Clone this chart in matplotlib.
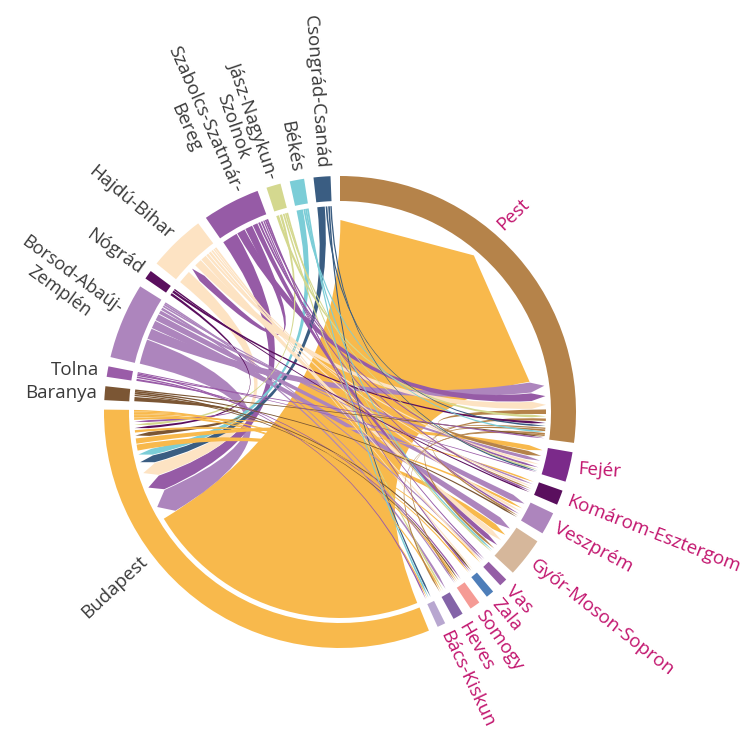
import numpy as np
import matplotlib
matplotlib.use('Agg')
import matplotlib.pyplot as plt
from matplotlib.path import Path
from matplotlib.patches import PathPatch, Wedge

# counties clockwise from the top
counties = ['Pest', 'Fejér', 'Komárom-Esztergom', 'Veszprém', 'Győr-Moson-Sopron',
            'Vas', 'Zala', 'Somogy', 'Heves', 'Bács-Kiskun', 'Budapest', 'Baranya',
            'Tolna', 'Borsod-Abaúj-Zemplén', 'Nógrád', 'Hajdú-Bihar',
            'Szabolcs-Szatmár-Bereg', 'Jász-Nagykun-Szolnok', 'Békés', 'Csongrád-Csanád']
labels = ['Pest', 'Fejér', 'Komárom-Esztergom', 'Veszprém', 'Győr-Moson-Sopron',
          'Vas', 'Zala', 'Somogy', 'Heves', 'Bács-Kiskun', 'Budapest', 'Baranya',
          'Tolna', 'Borsod-Abaúj-\nZemplén', 'Nógrád', 'Hajdú-Bihar',
          'Szabolcs-Szatmár-\nBereg', 'Jász-Nagykun-\nSzolnok', 'Békés', 'Csongrád-Csanád']
colors = ['#b5834a', '#7b2a8a', '#5a0f5e', '#ad85bd', '#d6b79b',
          '#955ea6', '#4e7eb9', '#f59b95', '#8464a8', '#b8a7d0',
          '#f8b94c', '#7b5634', '#9a5ca8', '#ad85bd', '#5a0f5e',
          '#fde3c3', '#965ba6', '#d4d88f', '#7bcdd7', '#3a5d82']

# migration flows (persons): from -> to
flow_from = (['Budapest'] * 10 + ['Pest'] * 6 + ['Borsod-Abaúj-Zemplén'] * 9
             + ['Szabolcs-Szatmár-Bereg'] * 9 + ['Hajdú-Bihar'] * 8 + ['Nógrád'] * 3
             + ['Baranya'] * 5 + ['Tolna'] * 5 + ['Jász-Nagykun-Szolnok'] * 5
             + ['Békés'] * 4 + ['Csongrád-Csanád'] * 4)
flow_to = [
    # Budapest
    'Pest', 'Fejér', 'Komárom-Esztergom', 'Veszprém', 'Győr-Moson-Sopron', 'Vas', 'Zala', 'Somogy', 'Heves', 'Bács-Kiskun',
    # Pest
    'Fejér', 'Komárom-Esztergom', 'Veszprém', 'Győr-Moson-Sopron', 'Somogy', 'Heves',
    # Borsod
    'Budapest', 'Pest', 'Fejér', 'Komárom-Esztergom', 'Veszprém', 'Győr-Moson-Sopron', 'Vas', 'Somogy', 'Heves',
    # Szabolcs
    'Budapest', 'Pest', 'Hajdú-Bihar', 'Fejér', 'Komárom-Esztergom', 'Veszprém', 'Győr-Moson-Sopron', 'Zala', 'Vas',
    # Hajdú
    'Budapest', 'Pest', 'Fejér', 'Komárom-Esztergom', 'Veszprém', 'Győr-Moson-Sopron', 'Vas', 'Zala',
    # Nógrád
    'Budapest', 'Pest', 'Komárom-Esztergom',
    # Baranya
    'Budapest', 'Pest', 'Veszprém', 'Zala', 'Somogy',
    # Tolna
    'Budapest', 'Pest', 'Fejér', 'Somogy', 'Bács-Kiskun',
    # Jász
    'Budapest', 'Pest', 'Fejér', 'Győr-Moson-Sopron', 'Heves',
    # Békés
    'Budapest', 'Pest', 'Győr-Moson-Sopron', 'Bács-Kiskun',
    # Csongrád
    'Budapest', 'Pest', 'Fejér', 'Bács-Kiskun',
]
flow_value = [
    8000, 170, 70, 90, 190, 40, 40, 50, 45, 40,
    150, 60, 50, 90, 40, 45,
    715, 320, 120, 70, 200, 240, 50, 40, 90,
    455, 250, 230, 80, 50, 70, 160, 45, 60,
    390, 230, 90, 70, 90, 180, 50, 60,
    90, 90, 40,
    140, 40, 45, 50, 60,
    80, 40, 30, 65, 40,
    90, 100, 45, 45, 70,
    200, 50, 50, 50,
    230, 70, 40, 70,
]

# label placement tweaks (degrees)
label_angle = {'Pest': 41, 'Budapest': 233, 'Borsod-Abaúj-Zemplén': 292.5,
               'Jász-Nagykun-Szolnok': 341.5}
label_rotation = {'Pest': 44, 'Budapest': 43, 'Fejér': -4, 'Baranya': 0, 'Tolna': 0,
                  'Borsod-Abaúj-Zemplén': -36, 'Hajdú-Bihar': -40,
                  'Szabolcs-Szatmár-Bereg': -66, 'Jász-Nagykun-Szolnok': -71}
label_size = {'Borsod-Abaúj-Zemplén': 13}

PAD = 2.3
R_OUT, R_IN, R_CHORD, HEAD = 236, 211, 206, 14
MAGENTA, GREY = '#c2156e', '#3a3a3a'
plt.rcParams['font.family'] = ['Open Sans', 'DejaVu Sans']


def pt(r, a):
    t = np.radians(a)
    return r * np.sin(t), r * np.cos(t)


def ribbon(sa0, sa1, ta0, ta1):
    arc = np.linspace(sa0, sa1, 30)
    verts = [pt(R_CHORD, a) for a in arc]
    codes = [Path.MOVETO] + [Path.LINETO] * (len(arc) - 1)
    verts += [(0, 0), pt(R_CHORD - HEAD, ta0), pt(R_CHORD, (ta0 + ta1) / 2),
              pt(R_CHORD - HEAD, ta1), (0, 0), pt(R_CHORD, sa0), (0, 0)]
    codes += [Path.CURVE3, Path.CURVE3, Path.LINETO, Path.LINETO,
              Path.CURVE3, Path.CURVE3, Path.CLOSEPOLY]
    return Path(verts, codes)


n = len(counties)
idx = {c: i for i, c in enumerate(counties)}
ends = [[] for _ in range(n)]
for k, (s, t, v) in enumerate(zip(flow_from, flow_to, flow_value)):
    ends[idx[s]].append((v, k, 's'))
    ends[idx[t]].append((v, k, 't'))
totals = [sum(e[0] for e in lst) for lst in ends]
scale = (360 - n * PAD) / sum(totals)

fig = plt.figure(figsize=(7.49, 7.33), dpi=100)
ax = fig.add_axes([0, 0, 1, 1])
ax.set_xlim(-340, 409)
ax.set_ylim(-321, 412)
ax.set_aspect('equal')
ax.axis('off')

src_ang, tgt_ang = {}, {}
a = 0.0
for i, c in enumerate(counties):
    a0, a1 = a, a + totals[i] * scale
    ax.add_patch(Wedge((0, 0), R_OUT, 90 - a1, 90 - a0, width=R_OUT - R_IN,
                       facecolor=colors[i], edgecolor='none'))
    pos = a0
    for v, k, role in sorted(ends[i], key=lambda e: -e[0]):
        w = v * scale
        s = 0.12 if w > 0.6 else 0.0
        (src_ang if role == 's' else tgt_ang)[k] = (pos + s, pos + w - s)
        pos += w
    # label
    la = label_angle.get(c, (a0 + a1) / 2)
    x, y = pt(244, la)
    if la < 180:
        rot, ha, col = 90 - la, 'left', MAGENTA
    else:
        rot = np.degrees(np.arctan2(-np.cos(np.radians(la)), -np.sin(np.radians(la))))
        ha, col = 'right', GREY
    rot = label_rotation.get(c, rot)
    ax.text(x, y, labels[i], rotation=rot, rotation_mode='anchor', ha=ha, va='center',
            multialignment='center', fontsize=label_size.get(c, 13.5), color=col,
            linespacing=1.2)
    a = a1 + PAD

order = sorted(range(len(flow_value)), key=lambda k: -flow_value[k])
for k in order:
    sa0, sa1 = src_ang[k]
    ta0, ta1 = tgt_ang[k]
    ax.add_patch(PathPatch(ribbon(sa0, sa1, ta0, ta1),
                           facecolor=colors[idx[flow_from[k]]], edgecolor='none'))

fig.savefig('out.png', dpi=100)
